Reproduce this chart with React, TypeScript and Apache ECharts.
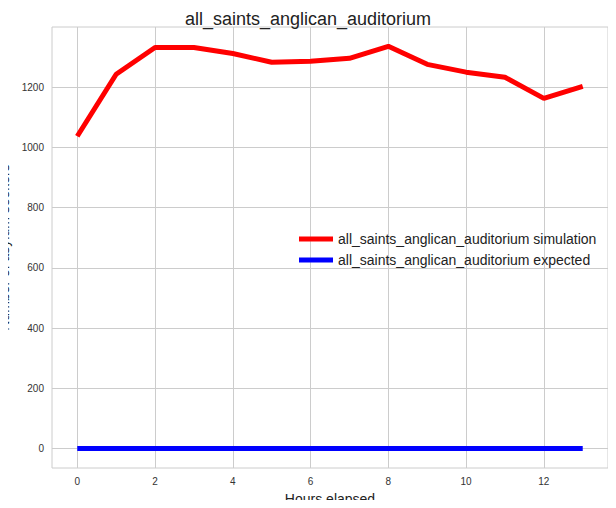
import * as echarts from "echarts";
import { useEffect, useRef } from "react";

const hours = [0, 1, 2, 3, 4, 5, 6, 7, 8, 9, 10, 11, 12, 13];
const simulation = [1037, 1243, 1332, 1332, 1312, 1283, 1286, 1296, 1336, 1276, 1250, 1233, 1163, 1203];
const expected = [0, 0, 0, 0, 0, 0, 0, 0, 0, 0, 0, 0, 0, 0];
const xTicks = [0, 2, 4, 6, 8, 10, 12];
const yTicks = [0, 200, 400, 600, 800, 1000, 1200];
const name = "all_saints_anglican_auditorium";

export default function App() {
  const ref = useRef<HTMLDivElement>(null);

  useEffect(() => {
    if (!ref.current) return;
    const chart = echarts.init(ref.current, null, { renderer: "svg" });
    const grid = { lineStyle: { color: "#cccccc", width: 1 } };
    chart.setOption({
      animation: false,
      textStyle: { fontFamily: "Liberation Sans" },
      title: {
        text: name,
        left: "center",
        top: -3,
        textStyle: { fontSize: 18, fontWeight: "normal", color: "#222" },
      },
      grid: {
        left: 44,
        right: 0,
        top: 19,
        bottom: 32,
        show: true,
        borderColor: "#cccccc",
        containLabel: false,
        outerBoundsMode: "none",
      },
      legend: {
        left: 286,
        top: 219,
        orient: "vertical",
        itemWidth: 34,
        itemGap: 7,
        icon: "rect",
        itemHeight: 5,
        textStyle: { fontSize: 14, color: "#222" },
        data: [name + " simulation", name + " expected"],
      },
      xAxis: {
        type: "value",
        min: -0.65,
        max: 13.65,
        name: "Hours elapsed",
        nameLocation: "middle",
        nameGap: 24,
        nameTextStyle: { fontSize: 14, color: "#222" },
        axisLine: { show: false },
        axisTick: { show: false, customValues: xTicks },
        axisLabel: { customValues: xTicks, fontSize: 10, color: "#333", margin: 8 },
        splitLine: { show: true, ...grid },
      },
      yAxis: {
        type: "value",
        min: -65,
        max: 1400,
        name: "Number of asylum seekers",
        nameLocation: "middle",
        nameGap: 31,
        nameTextStyle: { fontSize: 14, color: "#222" },
        axisLine: { show: false },
        axisTick: { show: false, customValues: yTicks },
        axisLabel: {
          customValues: yTicks,
          fontSize: 10,
          color: "#333",
          margin: 8,
          formatter: (v: number) => String(v),
        },
        splitLine: { show: true, ...grid },
      },
      series: [
        {
          name: name + " simulation",
          type: "line",
          data: hours.map((h, i) => [h, simulation[i]]),
          showSymbol: false,
          lineStyle: { color: "#ff0000", width: 5 },
          itemStyle: { color: "#ff0000" },
        },
        {
          name: name + " expected",
          type: "line",
          data: hours.map((h, i) => [h, expected[i]]),
          showSymbol: false,
          lineStyle: { color: "#0000ff", width: 5 },
          itemStyle: { color: "#0000ff" },
        },
      ],
    });
    return () => chart.dispose();
  }, []);

  return <div ref={ref} style={{ width: 600, height: 492 }} />;
}
